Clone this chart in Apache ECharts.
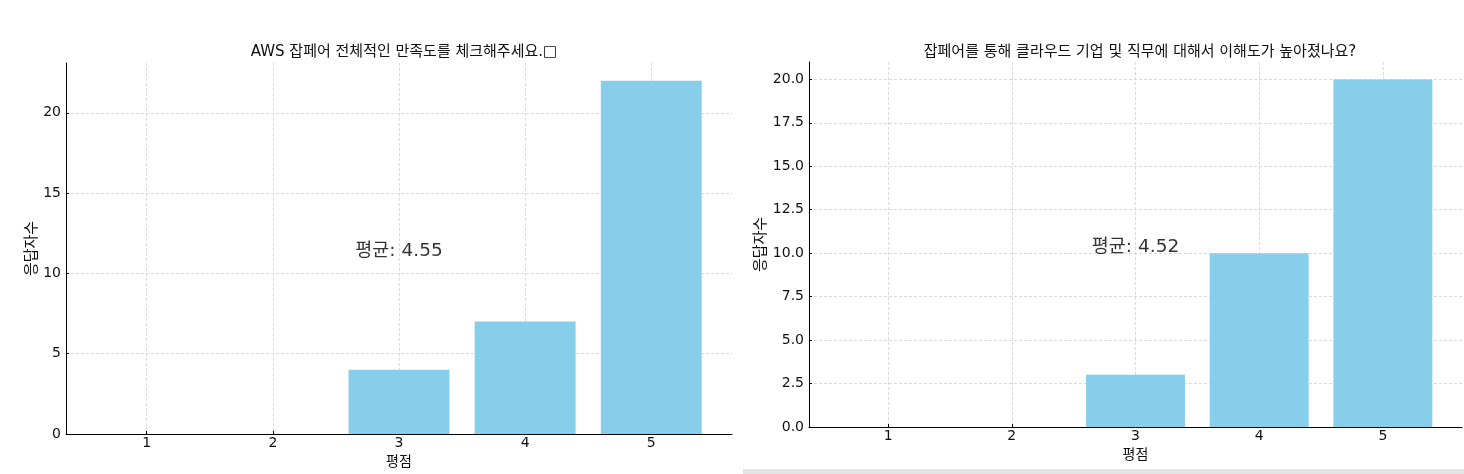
<!DOCTYPE html>
<html><head><meta charset="utf-8">
<script src="https://cdn.jsdelivr.net/npm/echarts@6/dist/echarts.min.js"></script>
<style>html,body{margin:0;padding:0;background:#fff}#c{width:1464px;height:474px}</style>
</head><body><div id="c"></div>
<script>
const categories = [1, 2, 3, 4, 5];
const valuesLeft = [0, 0, 4, 7, 22];
const valuesRight = [0, 0, 3, 10, 20];
const titleLeft = 'AWS 잡페어 전체적인 만족도를 체크해주세요.□';
const titleRight = '잡페어를 통해 클라우드 기업 및 직무에 대해서 이해도가 높아졌나요?';
const meanLabels = ['평균: 4.55', '평균: 4.52'];
const yTicksLeft = [0, 5, 10, 15, 20];
const yTicksRight = [0, 2.5, 5, 7.5, 10, 12.5, 15, 17.5, 20];

const FONT = "'DejaVu Sans', 'Noto Sans CJK KR', sans-serif";
const chart = echarts.init(document.getElementById('c'), null, {renderer: 'canvas'});

function xAxisCfg(gridIndex) {
  return {
    type: 'value', gridIndex, min: 0.36, max: 5.64,
    name: '평점', nameLocation: 'middle', nameGap: 21,
    nameTextStyle: {fontFamily: FONT, fontSize: 14, color: '#111'},
    axisLine: {show: true, lineStyle: {color: '#000', width: 1}},
    axisTick: {show: true, inside: true, length: 3, lineStyle: {color: '#000'}},
    axisLabel: {fontFamily: FONT, fontSize: 14, color: '#111', margin: 2,
      showMinLabel: false, showMaxLabel: false,
      formatter: v => (categories.includes(v) ? String(v) : '')},
    splitLine: {show: true, showMinLine: false, showMaxLine: false,
      lineStyle: {color: '#d0d0d0', type: [3, 2], width: 0.8}}
  };
}
function yAxisCfg(gridIndex, max, interval, ticks, nameGap, fmt) {
  return {
    type: 'value', gridIndex, min: 0, max, interval,
    name: '응답자수', nameLocation: 'middle', nameGap,
    nameTextStyle: {fontFamily: FONT, fontSize: 15, color: '#111'},
    axisLine: {show: true, lineStyle: {color: '#000', width: 1}},
    axisTick: {show: true, inside: true, length: 3, lineStyle: {color: '#000'}},
    axisLabel: {fontFamily: FONT, fontSize: 14, color: '#111', margin: 5,
      showMaxLabel: false,
      formatter: v => (ticks.includes(v) ? fmt(v) : '')},
    splitLine: {show: true, showMinLine: false, showMaxLine: false,
      lineStyle: {color: '#d0d0d0', type: [3, 2], width: 0.8}}
  };
}

const barData = vals => categories.map((c, i) => [c, vals[i]]);
const meanPoint = vals => [[categories[2], Math.max(...vals) / 2]];

chart.setOption({
  animation: false,
  title: [
    {text: titleLeft, left: 399, top: 40, textAlign: 'center',
      textStyle: {fontFamily: FONT, fontSize: 15, fontWeight: 'normal', color: '#111'}},
    {text: titleRight, left: 1135, top: 40, textAlign: 'center',
      textStyle: {fontFamily: FONT, fontSize: 15, fontWeight: 'normal', color: '#111'}}
  ],
  grid: [
    {left: 66, top: 63, width: 666, height: 371, outerBoundsMode: 'none', containLabel: false},
    {left: 809, top: 62, width: 653, height: 365, outerBoundsMode: 'none', containLabel: false}
  ],
  xAxis: [xAxisCfg(0), xAxisCfg(1)],
  yAxis: [
    yAxisCfg(0, 23.1, 5, yTicksLeft, 25, v => String(v)),
    yAxisCfg(1, 21, 2.5, yTicksRight, 39, v => v.toFixed(1))
  ],
  graphic: [
    {type: 'rect', shape: {x: 743, y: 469, width: 721, height: 5},
      style: {fill: '#e3e3e3'}, silent: true}
  ],
  series: [
    {type: 'bar', xAxisIndex: 0, yAxisIndex: 0, data: barData(valuesLeft),
      barWidth: '80%', itemStyle: {color: '#87CEEB'}},
    {type: 'bar', xAxisIndex: 1, yAxisIndex: 1, data: barData(valuesRight),
      barWidth: '80%', itemStyle: {color: '#87CEEB'}},
    {type: 'scatter', xAxisIndex: 0, yAxisIndex: 0, data: meanPoint(valuesLeft),
      symbolSize: 0, silent: true, z: 10,
      label: {show: true, position: 'top', distance: -3, formatter: meanLabels[0],
        fontFamily: FONT, fontSize: 18.5, color: '#000'}},
    {type: 'scatter', xAxisIndex: 1, yAxisIndex: 1, data: meanPoint(valuesRight),
      symbolSize: 0, silent: true, z: 10,
      label: {show: true, position: 'top', distance: -3, formatter: meanLabels[1],
        fontFamily: FONT, fontSize: 18.5, color: '#000'}}
  ]
});
</script></body></html>
